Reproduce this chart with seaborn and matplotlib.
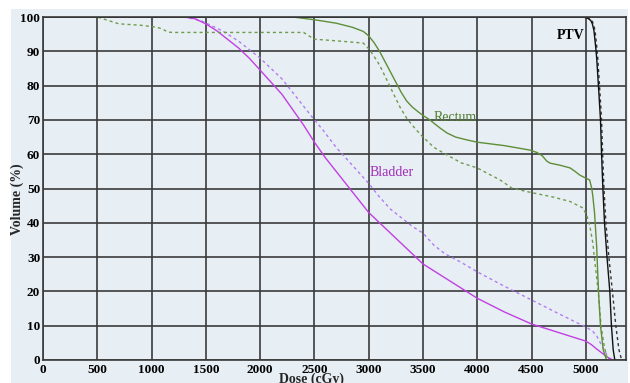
import matplotlib
matplotlib.use("Agg")
import matplotlib.pyplot as plt
import seaborn as sns
from matplotlib.patches import Rectangle

# Dose-volume histogram data (dose in cGy, volume in %)
ptv_dose = [0, 4950, 4990, 5020, 5045, 5060, 5075, 5090, 5100, 5110, 5120, 5135, 5145, 5157, 5172,
            5195, 5221, 5236, 5252, 5267]
ptv_vol = [100, 100, 99.9, 99.6, 99, 98, 96, 91.5, 88, 83, 78, 70, 60, 50, 40,
           30, 20, 10, 3, 0]
ptv2_dose = [0, 4950, 5000, 5030, 5055, 5070, 5085, 5100, 5110, 5120, 5130, 5145, 5155, 5167, 5185,
             5212, 5245, 5276, 5305, 5330]
ptv2_vol = [100, 100, 99.9, 99.6, 99, 98, 96, 91.5, 88, 83, 78, 70, 60, 50, 40,
            30, 20, 10, 3, 0]

rectum_dose = [0, 2300, 2500, 2700, 2850, 2950, 3000, 3050, 3100, 3150, 3200, 3250, 3300, 3350,
               3400, 3450, 3500, 3563, 3650, 3720, 3800, 3900, 4000, 4250, 4485, 4550, 4600, 4640,
               4670, 4760, 4855, 4900, 4945, 5000, 5035, 5055, 5065, 5080, 5090, 5100, 5110, 5120,
               5135, 5160, 5190]
rectum_vol = [100, 100, 99.2, 98.2, 97, 95.8, 94.5, 92.5, 90, 87, 84, 81, 78, 75.5,
              73.8, 72.5, 71.3, 70, 67.8, 66.2, 65, 64.2, 63.5, 62.5, 61.2, 60.5, 59.5, 58,
              57.4, 56.8, 56, 55, 53.9, 53, 52.5, 50, 47.6, 43, 38, 33, 25, 18,
              10, 3, 0]
rectum2_dose = [0, 500, 600, 700, 900, 1050, 1100, 1150, 1200, 2400, 2450, 2500, 2600, 2800, 2950,
                3010, 3060, 3100, 3168, 3230, 3287, 3350, 3400, 3450, 3500, 3600, 3720, 3850, 4000,
                4100, 4210, 4320, 4500, 4700, 4855, 4975, 5010, 5035, 5065, 5085, 5100, 5120, 5140,
                5170, 5200]
rectum2_vol = [100, 100, 99, 98, 97.6, 97, 96.5, 95.6, 95.5, 95.5, 94.5, 93.5, 93.3, 92.8, 92.4,
               90.4, 88, 86, 81.6, 77.5, 73.8, 70.5, 68.5, 66.7, 65, 62, 59.8, 57.5, 56,
               54.3, 52.5, 50.1, 48.8, 47.5, 46.2, 44.3, 42, 39.4, 34, 28, 24, 18, 10,
               4, 0]

bladder_dose = [0, 1300, 1400, 1500, 1600, 1700, 1800, 1900, 2000, 2100, 2200, 2300, 2400, 2500,
                2600, 2700, 2800, 2900, 3000, 3100, 3200, 3300, 3400, 3500, 3650, 3800, 4000, 4250,
                4500, 4750, 5000, 5050, 5100, 5150, 5200, 5250]
bladder_vol = [100, 100, 99.5, 98, 96, 93.5, 91, 88, 84.5, 81, 77.5, 73, 68.5, 63.5,
               59, 55, 51, 47, 43, 40, 37, 34, 31, 28, 25, 22, 18, 14,
               10.5, 8, 5.5, 4.5, 3.2, 2, 0.8, 0]
bladder2_dose = [0, 1300, 1450, 1550, 1650, 1800, 1900, 2000, 2100, 2200, 2300, 2400, 2500, 2580,
                 2700, 2800, 2900, 3000, 3100, 3200, 3300, 3400, 3500, 3600, 3700, 3850, 4000, 4250,
                 4500, 4750, 5000, 5060, 5100, 5150, 5200, 5221]
bladder2_vol = [100, 100, 99, 97.5, 96, 93, 90.5, 88, 85, 82, 78, 74, 70, 67,
                62, 58.5, 55, 51.5, 47.5, 44, 41.5, 39, 37, 33.5, 31, 28.5, 25.7, 21.5,
                17.5, 13.5, 9.6, 8.5, 7, 4, 1.2, 0]

x_ticks = list(range(0, 5001, 500))
y_ticks = list(range(0, 101, 10))

bg = "#e7eef4"
grid_col = "#3a3a3a"

sns.set_theme(style="white")
plt.rcParams['font.family'] = ['Liberation Serif', 'DejaVu Serif']

fig = plt.figure(figsize=(6.3, 3.83), dpi=100)
fig.patch.set_facecolor("white")
fig.patches.append(Rectangle((11 / 630, 0), 617 / 630, 374 / 383, transform=fig.transFigure,
                             facecolor=bg, edgecolor="none", zorder=-1))
ax = fig.add_axes([43 / 630, 23 / 383, 583 / 630, 343 / 383])
ax.set_facecolor(bg)

dash = (0, (2.2, 2.2))
sns.lineplot(x=bladder2_dose, y=bladder2_vol, sort=False, estimator=None, ax=ax,
             color="#b27cf2", linewidth=1.0, linestyle=dash)
sns.lineplot(x=bladder_dose, y=bladder_vol, sort=False, estimator=None, ax=ax,
             color="#c23fe2", linewidth=1.0)
sns.lineplot(x=rectum2_dose, y=rectum2_vol, sort=False, estimator=None, ax=ax,
             color="#6f9c4c", linewidth=1.0, linestyle=dash)
sns.lineplot(x=rectum_dose, y=rectum_vol, sort=False, estimator=None, ax=ax,
             color="#5e8e38", linewidth=1.0)
sns.lineplot(x=ptv2_dose, y=ptv2_vol, sort=False, estimator=None, ax=ax,
             color="#333333", linewidth=1.0, linestyle=dash)
sns.lineplot(x=ptv_dose, y=ptv_vol, sort=False, estimator=None, ax=ax,
             color="#111111", linewidth=1.0)

ax.set_xlim(0, 5370)
ax.set_ylim(0, 100)
ax.set_xticks(x_ticks)
ax.set_yticks(y_ticks)
ax.grid(True, color=grid_col, linewidth=1.2)
ax.set_axisbelow(True)
for s in ax.spines.values():
    s.set_color(grid_col)
    s.set_linewidth(1.2)
ax.tick_params(length=0, labelsize=9.5, colors="black")
ax.tick_params(axis="y", pad=2)
ax.tick_params(axis="x", pad=3)
for lab in ax.get_xticklabels() + ax.get_yticklabels():
    lab.set_fontweight("bold")

ax.set_xlabel("Dose (cGy)", fontsize=10, fontweight="bold", va="top")
ax.xaxis.set_label_coords(0.46, -0.036)
ax.set_ylabel("Volume (%)", fontsize=10, fontweight="bold", va="center")
ax.yaxis.set_label_coords(-0.044, 0.47)

ax.text(4733, 94.5, "PTV", fontsize=10, color="black", fontweight="bold", va="center")
ax.text(3600, 70.8, "Rectum", fontsize=10, color="#4f7f2e", va="center")
ax.text(3010, 54.8, "Bladder", fontsize=10, color="#a02cb8", va="center")

fig.savefig("out.png", dpi=100, facecolor="white")
